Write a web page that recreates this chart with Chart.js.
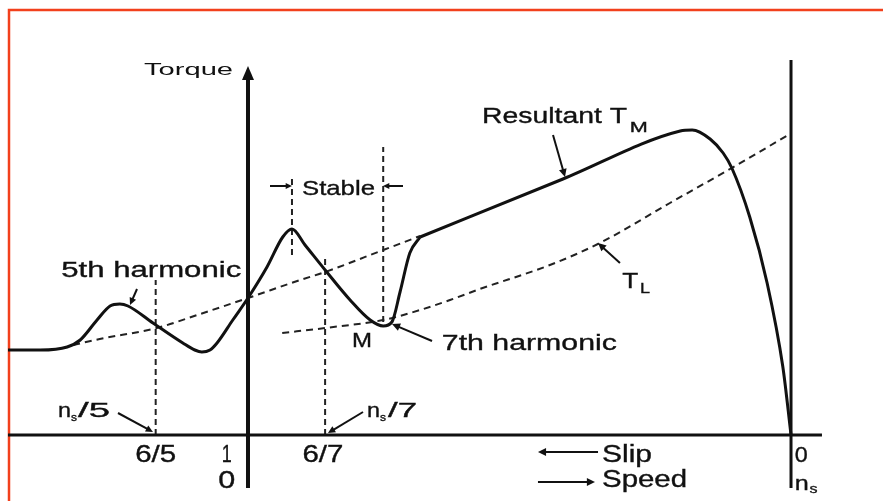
<!DOCTYPE html>
<html>
<head>
<meta charset="utf-8">
<title>Torque - speed with harmonics</title>
<script src="https://cdn.jsdelivr.net/npm/chart.js@4.4.1/dist/chart.umd.min.js"></script>
<style>
  html, body { margin: 0; padding: 0; background: #fff; }
  #wrap { width: 883px; height: 501px; }
</style>
</head>
<body>
<div id="wrap"><canvas id="grafico" width="883" height="501"></canvas></div>
<script>
// speed in p.u. of ns (0 = standstill, slip 1), torque in arbitrary units
// resultant T_M, harmonic part (up to the knee)
const speedResA  = [-0.442, -0.383, -0.333, -0.309, -0.278, -0.254, -0.236, -0.221, -0.175, -0.120, -0.098, -0.085, -0.070, -0.057, -0.028, 0, 0.035, 0.064, 0.081, 0.105, 0.142, 0.188, 0.225, 0.249, 0.265, 0.280, 0.298, 0.317];
const torqueResA = [0.85, 0.85, 0.88, 0.95, 1.15, 1.29, 1.31, 1.29, 1.12, 0.92, 0.85, 0.83, 0.85, 0.92, 1.15, 1.37, 1.68, 1.98, 2.06, 1.90, 1.65, 1.35, 1.15, 1.09, 1.13, 1.43, 1.82, 1.98];
// resultant T_M, main part (from the knee to synchronous speed)
const speedResB  = [0.317, 0.580, 0.796, 0.818, 0.851, 0.875, 0.891, 0.924, 0.956, 0.985, 1.0];
const torqueResB = [1.98, 2.56, 3.04, 3.05, 2.96, 2.82, 2.67, 2.18, 1.52, 0.68, 0];

// fundamental torque (dashed, left part)
const speedFund  = [-0.322, -0.273, -0.168, -0.088, 0, 0.096, 0.142, 0.249, 0.317];
const torqueFund = [0.90, 0.96, 1.07, 1.21, 1.37, 1.55, 1.63, 1.85, 1.99];

// load torque T_L
const speedLoad  = [0.063, 0.142, 0.249, 0.317, 0.372, 0.427, 0.556, 0.648, 0.777, 0.891, 0.998];
const torqueLoad = [1.02, 1.07, 1.15, 1.25, 1.35, 1.46, 1.70, 1.92, 2.32, 2.67, 3.01];

// dashed construction lines
const guideSpeed  = [-0.170, 0.081, 0.142, 0.249];
const guideTop    = [1.55, 2.60, 1.80, 2.88];
const guideBottom = [0, 1.80, 0, 1.13];

// axes
const axisSpeed  = [-0.442, 1.057];
const axisTorque = [-0.53, 3.62];
const syncTorque = [-0.53, 3.75];

// tick labels
const slipTicks  = ['6/5', '1', '6/7'];
const slipPos    = [-0.170, -0.039, 0.138];

const pts = (xs, ys) => xs.map((x, i) => ({ x: x, y: ys[i] }));

const datasets = [
  { data: pts(speedResA, torqueResA), borderColor: '#111', borderWidth: 3, cubicInterpolationMode: 'monotone' },
  { data: pts(speedResB, torqueResB), borderColor: '#111', borderWidth: 3, cubicInterpolationMode: 'monotone' },
  { data: pts(speedFund, torqueFund), borderColor: '#222', borderWidth: 2, borderDash: [7, 5], cubicInterpolationMode: 'monotone' },
  { data: pts(speedLoad, torqueLoad), borderColor: '#222', borderWidth: 2, borderDash: [7, 5], cubicInterpolationMode: 'monotone' },
  { data: pts(axisSpeed, [0, 0]), borderColor: '#111', borderWidth: 3 },
  { data: [{ x: 0, y: axisTorque[0] }, { x: 0, y: axisTorque[1] }], borderColor: '#111', borderWidth: 4 },
  { data: [{ x: 1, y: syncTorque[0] }, { x: 1, y: syncTorque[1] }], borderColor: '#111', borderWidth: 3 }
];
guideSpeed.forEach((s, i) => {
  datasets.push({ data: [{ x: s, y: guideBottom[i] }, { x: s, y: guideTop[i] }], borderColor: '#222', borderWidth: 2, borderDash: [6, 4] });
});

const FONT = '"Liberation Sans", Arial, sans-serif';

function arrow(ctx, x1, y1, x2, y2, head) {
  const a = Math.atan2(y2 - y1, x2 - x1);
  ctx.beginPath();
  ctx.moveTo(x1, y1);
  ctx.lineTo(x2 - Math.cos(a) * head * 0.6, y2 - Math.sin(a) * head * 0.6);
  ctx.stroke();
  ctx.beginPath();
  ctx.moveTo(x2, y2);
  ctx.lineTo(x2 - head * Math.cos(a - 0.45), y2 - head * Math.sin(a - 0.45));
  ctx.lineTo(x2 - head * Math.cos(a + 0.45), y2 - head * Math.sin(a + 0.45));
  ctx.closePath();
  ctx.fill();
}

const anotaciones = {
  id: 'anotaciones',
  beforeDraw(chart) {
    const ctx = chart.ctx;
    ctx.save();
    ctx.fillStyle = '#fff';
    ctx.fillRect(0, 0, chart.width, chart.height);
    ctx.strokeStyle = '#f2401c';
    ctx.lineWidth = 2.5;
    ctx.beginPath();
    ctx.moveTo(chart.width, 10);
    ctx.lineTo(9, 10);
    ctx.lineTo(9, chart.height);
    ctx.stroke();
    ctx.restore();
  },
  afterDatasetsDraw(chart) {
    const ctx = chart.ctx;
    const sx = chart.scales.x, sy = chart.scales.y;
    const X = v => sx.getPixelForValue(v);
    const Y = v => sy.getPixelForValue(v);

    // text drawn with a horizontal stretch so it fills the given width
    function txt(t, s, T, size, width, align, heavy) {
      ctx.font = size + 'px ' + FONT;
      const w = ctx.measureText(t).width;
      const k = width / w;
      let px = X(s);
      if (align === 'center') px -= width / 2;
      ctx.save();
      ctx.translate(px, Y(T));
      ctx.scale(k, 1);
      ctx.textAlign = 'left';
      ctx.textBaseline = 'alphabetic';
      ctx.fillText(t, 0, 0);
      if (heavy !== false) {
        ctx.lineWidth = 0.35;
        ctx.strokeText(t, 0, 0);
      }
      ctx.restore();
    }

    ctx.save();
    ctx.fillStyle = '#111';
    ctx.strokeStyle = '#111';
    ctx.lineWidth = 2;

    // arrowhead on torque axis
    ctx.beginPath();
    ctx.moveTo(X(0), Y(3.69));
    ctx.lineTo(X(0) - 6, Y(3.55));
    ctx.lineTo(X(0) + 6, Y(3.55));
    ctx.closePath();
    ctx.fill();

    txt('Torque', -0.1915, 3.60, 16, 89, 'left', false);
    txt('5th harmonic', -0.344, 1.58, 22, 180);
    txt('Stable', 0.0994, 2.40, 21, 73);
    txt('Resultant T', 0.431, 3.12, 22, 145);
    txt('M', 0.703, 3.03, 14, 18);
    txt('T', 0.689, 1.47, 22, 16);
    txt('L', 0.722, 1.42, 14, 10);
    txt('M', 0.1915, 0.88, 20, 20);
    txt('7th harmonic', 0.357, 0.85, 22, 175);

    // ns/5 and ns/7
    txt('n', -0.350, 0.18, 20, 13);
    txt('s', -0.326, 0.14, 11, 6);
    txt('/5', -0.313, 0.18, 20, 32);
    txt('n', 0.219, 0.18, 20, 13);
    txt('s', 0.243, 0.14, 11, 6);
    txt('/7', 0.258, 0.18, 20, 29);

    // slip / speed tick labels
    slipTicks.forEach((t, i) => {
      const w = t.length > 1 ? 41 : 10;
      txt(t, slipPos[i], -0.27, 24, w, 'center');
    });
    txt('0', -0.039, -0.53, 24, 17, 'center');
    txt('0', 1.007, -0.27, 22, 13);
    txt('n', 1.007, -0.55, 20, 14);
    txt('s', 1.034, -0.58, 12, 8);

    txt('Slip', 0.652, -0.27, 23, 50);
    txt('Speed', 0.652, -0.52, 23, 85);

    // leaders and arrows
    arrow(ctx, X(0.5617), Y(3.00), X(0.5838), Y(2.58), 9);
    arrow(ctx, X(0.685), Y(1.72), X(0.6446), Y(1.92), 9);
    arrow(ctx, X(-0.2044), Y(1.46), X(-0.2173), Y(1.30), 8);
    arrow(ctx, X(0.3389), Y(0.94), X(0.2652), Y(1.11), 9);
    arrow(ctx, X(-0.2394), Y(0.22), X(-0.175), Y(0.03), 8);
    arrow(ctx, X(0.2118), Y(0.23), X(0.1473), Y(0.02), 8);
    arrow(ctx, X(0.0405), Y(2.49), X(0.081), Y(2.49), 7);
    arrow(ctx, X(0.2855), Y(2.49), X(0.2486), Y(2.49), 7);
    arrow(ctx, X(0.6446), Y(-0.17), X(0.534), Y(-0.17), 9);
    arrow(ctx, X(0.534), Y(-0.47), X(0.639), Y(-0.47), 9);
    ctx.restore();
  }
};

new Chart(document.getElementById('grafico'), {
  type: 'scatter',
  data: { datasets: datasets },
  options: {
    responsive: false,
    animation: false,
    showLine: true,
    layout: { padding: 0, autoPadding: false },
    elements: { point: { radius: 0, hoverRadius: 0 }, line: { fill: false } },
    plugins: { legend: { display: false }, tooltip: { enabled: false } },
    scales: {
      x: { type: 'linear', display: false, min: -0.4567, max: 1.1694 },
      y: { type: 'linear', display: false, min: -0.66, max: 4.35 }
    }
  },
  plugins: [anotaciones]
});
</script>
</body>
</html>
